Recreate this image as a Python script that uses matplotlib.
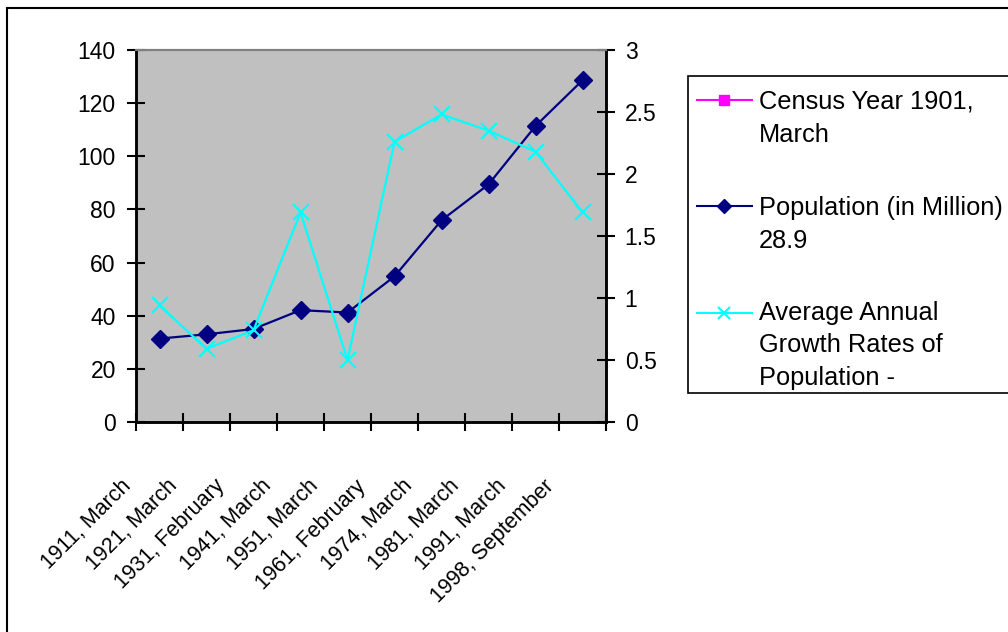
import matplotlib
matplotlib.use("Agg")
import matplotlib.pyplot as plt
import matplotlib.transforms as mtransforms
from matplotlib.lines import Line2D
from matplotlib.patches import Rectangle
import numpy as np

# census dates (x categories)
census = ["1911, March", "1921, March", "1931, February", "1941, March",
          "1951, March", "1961, February", "1974, March", "1981, March",
          "1991, March", "1998, September"]
# Population (in Million)
population = [31.4, 33.0, 35.0, 42.1, 41.2, 54.8, 75.9, 89.4, 111.4, 128.6]
# Average annual growth rates (%)
growth = [0.94, 0.59, 0.74, 1.69, 0.50, 2.26, 2.48, 2.35, 2.18, 1.69]

legend_labels = ["Census Year 1901,\nMarch",
                 "Population (in Million)\n28.9",
                 "Average Annual\nGrowth Rates of\nPopulation -"]

plt.rcParams["font.family"] = ["Liberation Sans", "DejaVu Sans"]

W, H = 1008, 632
fig = plt.figure(figsize=(W / 100, H / 100), dpi=100)


def fx(x):
    return x / W


def fy(y):
    return 1 - y / H


# plot area in pixel coords
L, R, T, B = 136, 606, 50, 422
ax = fig.add_axes([fx(L), fy(B), fx(R) - fx(L), fy(T) - fy(B)])
ax.set_facecolor("#C0C0C0")

x = np.arange(len(census))
ax.plot(x, population, color="#000080", lw=1.6, marker="D", ms=9,
        mfc="#000080", mec="#000080", zorder=3)
ax.set_xlim(-0.5, len(census) - 0.5)
ax.set_ylim(0, 140)
ax.set_yticks(np.arange(0, 141, 20))

# category boundaries as major ticks, labels on centers
ax.set_xticks(np.arange(-0.5, len(census), 1.0))
ax.set_xticklabels([])
ax.set_xticks(x, minor=True)
ax.set_xticklabels(census, minor=True, rotation=45, ha="right",
                   va="center", rotation_mode="anchor", fontsize=15.5)
ax.tick_params(axis="x", which="major", direction="inout", length=13,
               width=1.5)
ax.tick_params(axis="x", which="minor", length=0, pad=44)
off = mtransforms.ScaledTranslation(-0.32, 0, fig.dpi_scale_trans)
for lab in ax.get_xticklabels(minor=True):
    lab.set_transform(lab.get_transform() + off)

ax.tick_params(axis="y", direction="inout", length=13, width=1.5,
               labelsize=16.5, pad=8)

ax2 = ax.twinx()
ax2.plot(x, growth, color="#00FFFF", lw=1.6, marker="x", ms=11, mew=1.5,
         zorder=3)
ax2.set_ylim(0, 3)
ax2.set_yticks([0, 0.5, 1, 1.5, 2, 2.5, 3])
ax2.set_yticklabels(["0", "0.5", "1", "1.5", "2", "2.5", "3"])
ax2.tick_params(axis="y", direction="inout", length=13, width=1.5,
                labelsize=16.5, pad=7)

for a in (ax, ax2):
    for s in ("left", "right", "bottom"):
        a.spines[s].set_linewidth(1.8)
        a.spines[s].set_color("black")
    a.spines["top"].set_color("#808080")
    a.spines["top"].set_linewidth(1.5)

# outer chart frame (runs off right and bottom)
fig.add_artist(Rectangle((fx(7), fy(700)), fx(1100) - fx(7), fy(8) - fy(700),
                         transform=fig.transFigure, fill=False,
                         edgecolor="black", lw=1.5))

# legend box
fig.add_artist(Rectangle((fx(688), fy(393)), fx(1100) - fx(688),
                         fy(76) - fy(393), transform=fig.transFigure,
                         facecolor="white", edgecolor="black", lw=1.2))
handles = [dict(color="#FF00FF", marker="s", ms=7, mew=1),
           dict(color="#000080", marker="D", ms=7, mew=1),
           dict(color="#00FFFF", marker="x", ms=9, mew=1.5)]
handle_y = [100, 206, 313]
first_base = [109, 215, 320]
for lab, hs, hy, by in zip(legend_labels, handles, handle_y, first_base):
    fig.add_artist(Line2D([fx(697), fx(752)], [fy(hy), fy(hy)],
                          transform=fig.transFigure, lw=1.5,
                          color=hs["color"]))
    fig.add_artist(Line2D([fx(724)], [fy(hy)], transform=fig.transFigure,
                          linestyle="none", marker=hs["marker"], ms=hs["ms"],
                          mew=hs["mew"], color=hs["color"],
                          mfc=hs["color"], mec=hs["color"]))
    for i, line in enumerate(lab.split("\n")):
        fig.text(fx(759), fy(by + i * 32.5), line, fontsize=18.3,
                 va="baseline", ha="left")

fig.savefig("out.png", dpi=100)
